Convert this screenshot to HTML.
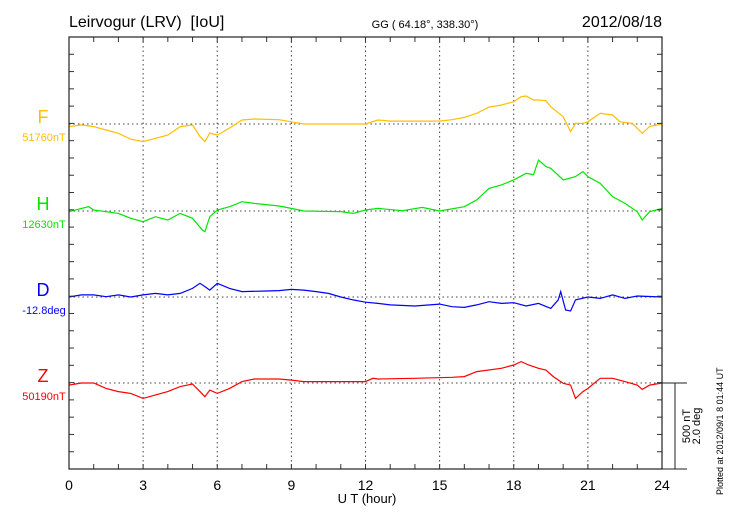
<!DOCTYPE html>
<html><head><meta charset="utf-8"><style>
body{margin:0;background:#fff;}
svg{display:block;font-family:"Liberation Sans",sans-serif;}
</style></head><body>
<svg id="chart" width="730" height="520" viewBox="0 0 730 520">
<text x="69" y="27" font-size="16" style="white-space:pre">Leirvogur (LRV)&#160;&#160;[IoU]</text>
<text x="425" y="28" font-size="11" text-anchor="middle">GG ( 64.18°, 338.30°)</text>
<text x="662" y="27" font-size="16" text-anchor="end">2012/08/18</text>
<g id="grid"></g>
<g id="series"></g>
<g id="axes"></g>
<text x="367" y="503" font-size="13" text-anchor="middle">U T (hour)</text>
<text transform="translate(690,426) rotate(-90)" font-size="11" text-anchor="middle">500 nT</text>
<text transform="translate(700,426) rotate(-90)" font-size="11" text-anchor="middle">2.0 deg</text>
<text transform="translate(723,495) rotate(-90)" font-size="9">Plotted at 2012/09/1 8 01:44 UT</text>
</svg>
<script>
const xTicks=[0,3,6,9,12,15,18,21,24];
const seriesNames=["F","H","D","Z"];
const seriesBaselines=["51760nT","12630nT","-12.8deg","50190nT"];
const fHours=[0,0.5,1,1.5,2,2.5,3,3.5,4,4.5,5,5.3,5.5,5.7,6,6.5,7,7.5,8.5,9,9.5,11,12,12.5,13,15,15.5,16,16.5,17,17.5,18,18.3,18.5,18.8,19,19.3,19.5,20,20.3,20.5,20.8,21,21.5,22,22.3,22.8,23.2,23.5,24];
const fValues=[-15,-5,-15,-35,-54,-88,-102,-83,-64,-15,-5,-73,-102,-52,-64,-23,23,29,25,13,0,0,0,23,17,17,25,38,62,98,110,129,158,162,139,139,135,100,42,-44,4,4,13,62,52,13,4,-54,-15,0];
const hHours=[0,0.5,0.8,1,1.5,2,2.5,3,3.5,4,4.5,5,5.4,5.5,5.7,6,6.5,7,7.5,8.5,9,9.5,11,11.5,12,12.5,13.5,14.3,15,16,16.5,17,17.5,18,18.5,18.8,19,19.3,19.5,20,20.5,20.8,21,21.5,22,22.5,23,23.2,23.5,24];
const hValues=[-4,15,25,6,-4,-14,-42,-62,-33,-52,-14,-42,-110,-120,-33,6,25,54,44,29,15,0,-4,-14,6,15,2,21,0,25,64,131,151,180,218,210,295,257,247,180,199,228,199,160,83,44,-4,-52,-4,15];
const dHours=[0,0.5,1,1.5,2,2.5,3,3.5,4,4.5,5,5.3,5.5,5.7,6,6.5,7,8,8.5,9,9.5,10,10.5,11,11.5,12,12.5,13,14,15,15.5,16,16.5,17,17.5,18,18.5,19,19.5,19.8,19.9,20.1,20.3,20.5,21,21.5,22,22.5,23,24];
const dValues=[0,12,12,2,12,0,12,21,12,21,50,79,60,40,79,50,31,35,37,44,40,31,21,0,-17,-30,-37,-46,-52,-41,-56,-60,-46,-27,-37,-33,-52,-37,-66,-17,31,-75,-81,-17,0,-8,12,-8,6,0];
const zHours=[0,0.5,1,1.5,2,2.5,3,3.5,4,4.5,5,5.3,5.5,5.7,6,6.5,7,7.5,8.5,9,9.5,11,12,12.3,12.5,14,15.5,16,16.5,17.5,18,18.3,18.6,19,19.3,19.6,20,20.3,20.5,20.8,21,21.5,22,22.5,23,23.2,23.5,24];
const zValues=[-12,0,0,-31,-50,-60,-89,-69,-50,-21,-6,-50,-79,-41,-60,-31,8,23,23,17,8,8,8,27,23,27,33,37,66,85,104,124,104,85,75,37,-2,-12,-89,-50,-31,27,27,8,-12,-37,-12,0];

const X0=69,X1=662,Y0=37,Y1=469;
const baseY=[124,211,297,383];
const colors=["#ffbf00","#00e600","#0000ff","#ff0000"];
const pxPerNT=17.28/100;
const xs=h=>X0+(X1-X0)*h/24;
const ys=(i,v)=>baseY[i]-v*pxPerNT;
const NS="http://www.w3.org/2000/svg";
function mk(tag,attrs,parent){const e=document.createElementNS(NS,tag);for(const k in attrs)e.setAttribute(k,attrs[k]);parent.appendChild(e);return e;}
const grid=document.getElementById('grid'),axes=document.getElementById('axes'),ser=document.getElementById('series');
xTicks.forEach(t=>{if(t>0&&t<24){const l=mk('line',{x1:xs(t),x2:xs(t),y1:Y0,y2:Y1,stroke:'#444','stroke-width':1,'stroke-dasharray':'1.5,3'},grid);

}
const tx=mk('text',{x:xs(t),y:490,'font-size':14,'text-anchor':'middle'},axes);tx.textContent=t;

});
baseY.forEach(y=>{const l=mk('line',{x1:X0,x2:X1,y1:y,y2:y,stroke:'#444','stroke-width':1,'stroke-dasharray':'1.5,3'},grid);

});
for(let h=0;h<=24;h++){const x=xs(h);mk('line',{x1:x,x2:x,y1:Y0,y2:Y0+5,stroke:'#333'},axes);mk('line',{x1:x,x2:x,y1:Y1,y2:Y1-5,stroke:'#333'},axes);}
for(let k=0;k<=25;k++){const y=Y0+k*(Y1-Y0)/25;mk('line',{x1:X0,x2:X0+5,y1:y,y2:y,stroke:'#333'},axes);mk('line',{x1:X1,x2:X1-5,y1:y,y2:y,stroke:'#333'},axes);}
const frame=mk('rect',{x:X0,y:Y0,width:X1-X0,height:Y1-Y0,fill:'none',stroke:'#222','stroke-width':1.2},axes);


mk('line',{x1:X1,x2:687,y1:383,y2:383,stroke:'#222'},axes);
mk('line',{x1:X1,x2:687,y1:Y1,y2:Y1,stroke:'#222'},axes);
const sb=mk('line',{x1:675,x2:675,y1:383,y2:Y1,stroke:'#222'},axes);


const H=[fHours,hHours,dHours,zHours],V=[fValues,hValues,dValues,zValues];
seriesNames.forEach((n,i)=>{
 const d=H[i].map((h,j)=>(j?'L':'M')+xs(h).toFixed(1)+','+ys(i,V[i][j]).toFixed(1)).join('');
 const p=mk('path',{d:d,fill:'none',stroke:colors[i],'stroke-width':1.2},ser);
 
 
 const t=mk('text',{x:43,y:baseY[i]-1,'font-size':18,'text-anchor':'middle',fill:colors[i]},axes);t.textContent=n;
 
 
 const b=mk('text',{x:44,y:baseY[i]+17,'font-size':11,'text-anchor':'middle',fill:colors[i]},axes);b.textContent=seriesBaselines[i];
 
 
});
</script>
</body></html>
